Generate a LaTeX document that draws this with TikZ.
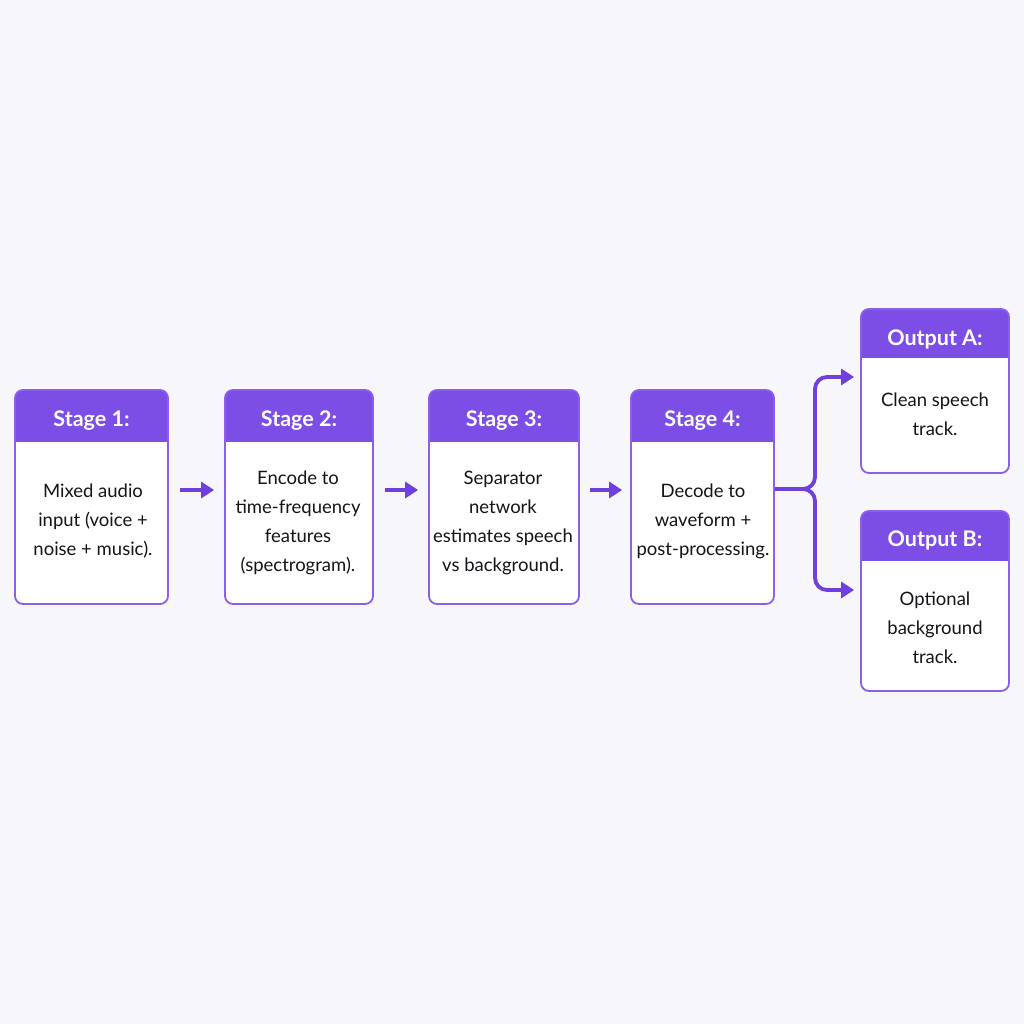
\documentclass[tikz,border=0pt]{standalone}
\usepackage{fontspec}
\setmainfont{Lato}
\usepackage{tikz}
\usetikzlibrary{arrows.meta, positioning, calc}
\definecolor{sgpurple}{RGB}{124, 78, 230}
\definecolor{sgedge}{RGB}{140, 95, 235}
\definecolor{sgarrow}{RGB}{112, 64, 220}
\definecolor{sgpaper}{RGB}{247, 246, 250}
\definecolor{sgink}{RGB}{20, 20, 25}

\begin{document}
\begin{tikzpicture}[x=1pt, y=-1pt, >=Stealth,
    stagebox/.style={draw=sgedge, line width=1.8pt, fill=white,
      rounded corners=8pt, inner sep=0pt,
      path picture={\fill[sgpurple, sharp corners] (path picture bounding box.north west)
        rectangle ([yshift=-#1]path picture bounding box.north east);}},
    stagebox/.default=52pt,
    head/.style={text=white, font=\fontsize{21.5}{24}\selectfont\bfseries},
    body/.style={text=sgink, align=center, font=\fontsize{18.5}{29}\selectfont},
    flow/.style={draw=sgarrow, line width=3.8pt,
      -{Triangle[length=13pt, width=16pt]}}]

  % --- page ---
  \fill[sgpaper] (0,0) rectangle (1024,1024);
  \useasboundingbox (0,0) rectangle (1024,1024);

  % --- stage boxes ---
  \node[stagebox, minimum width=153pt, minimum height=214pt] (s1) at (91.5,497) {};
  \node[stagebox, minimum width=148pt, minimum height=214pt] (s2) at (299,497) {};
  \node[stagebox, minimum width=150pt, minimum height=214pt] (s3) at (504,497) {};
  \node[stagebox, minimum width=143pt, minimum height=214pt] (s4) at (702.5,497) {};

  % --- output boxes ---
  \node[stagebox=49pt, minimum width=148pt, minimum height=164pt] (oA) at (935,391) {};
  \node[stagebox=50pt, minimum width=148pt, minimum height=180pt] (oB) at (935,601) {};

  % --- headings ---
  \node[head] (s1h) at ([yshift=-31pt]s1.north) {Stage 1:};
  \node[head] (s2h) at ([yshift=-31pt]s2.north) {Stage 2:};
  \node[head] (s3h) at ([yshift=-31pt]s3.north) {Stage 3:};
  \node[head] (s4h) at ([yshift=-31pt]s4.north) {Stage 4:};
  \node[head] (oAh) at ([yshift=-31pt]oA.north) {Output A:};
  \node[head] (oBh) at ([yshift=-30pt]oB.north) {Output B:};

  % --- texts ---
  \node[body] (s1t) at (93,521) {Mixed audio\\input (voice +\\noise + music).};
  \node[body] (s2t) at (298,523) {Encode to\\time-frequency\\features\\(spectrogram).};
  \node[body] (s3t) at (503,523) {Separator\\network\\estimates speech\\vs background.};
  \node[body] (s4t) at (703,521) {Decode to\\waveform +\\post-processing.};
  \node[body] (oAt) at (935,414) {Clean speech\\track.};
  \node[body] (oBt) at (935,628) {Optional\\background\\track.};

  % --- connectors ---
  \draw[flow, shorten <=11pt, shorten >=10pt] ([yshift=7pt]s1.east) -- ([yshift=7pt]s2.west);
  \draw[flow, shorten <=11pt, shorten >=10pt] ([yshift=7pt]s2.east) -- ([yshift=7pt]s3.west);
  \draw[flow, shorten <=10pt, shorten >=8pt] ([yshift=7pt]s3.east) -- ([yshift=7pt]s4.west);

  % --- fork to outputs ---
  \coordinate (fork) at (815,489);
  \draw[flow, rounded corners=12pt, shorten >=6pt] ([yshift=8pt]s4.east) -- (fork) |- ([yshift=14pt]oA.west);
  \draw[flow, rounded corners=12pt, shorten >=6pt] ([yshift=8pt]s4.east) -- (fork) |- ([yshift=11pt]oB.west);

\end{tikzpicture}
\end{document}
